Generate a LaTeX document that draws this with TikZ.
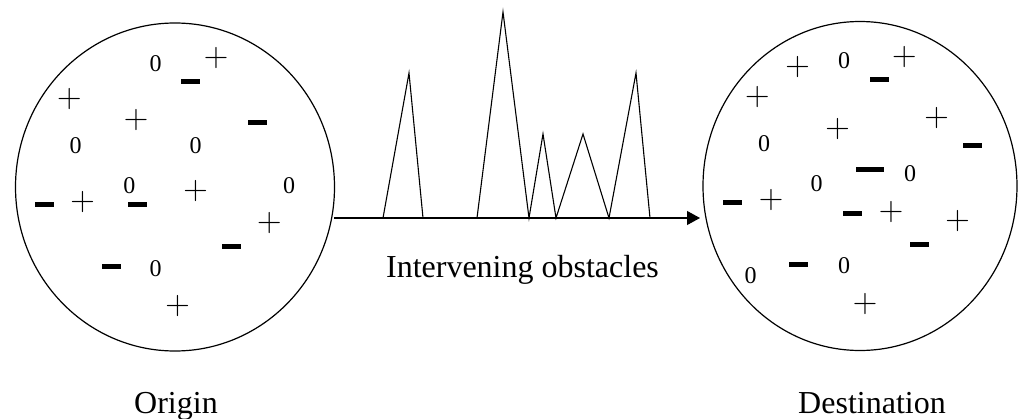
\documentclass[tikz,border=0pt]{standalone}
\usepackage{fontspec}
\newfontfamily\timesf{Liberation Serif}
\usetikzlibrary{shapes.geometric,arrows.meta}
\tikzset{
  region/.style={draw, ellipse, line width=1.2pt, inner sep=0pt},
  zerosym/.style={inner sep=0pt, font=\timesf\fontsize{24}{28}\selectfont},
  plussym/.style={inner sep=0pt, font=\fontsize{34}{40}\selectfont},
  negsym/.style={rectangle, fill=black, inner sep=0pt, minimum width=19pt, minimum height=5pt},
  negl/.style={negsym, minimum width=28pt},
  lbl/.style={anchor=base, inner sep=0pt, font=\timesf\fontsize{32}{38}\selectfont},
  conn/.style={line width=1.1pt, -{Triangle[length=13pt,width=14pt]}},
  peak/.style={line width=1.1pt, line join=miter}
}
\begin{document}
\begin{tikzpicture}[x=1pt,y=-1pt]
\useasboundingbox (0,0) rectangle (1018,418);
% regions
\node[region, minimum width=319pt, minimum height=328pt] (orig) at (175,187) {};
\node[region, minimum width=314pt, minimum height=329pt] (dest) at (860,186) {};
% connector
\coordinate (a0) at (334,218);
\coordinate (a1) at (700,218);
\draw[conn] (a0) -- (a1);
% obstacles
\draw[peak] (383,218) -- (409,73) -- (423,218);
\draw[peak] (477,218) -- (503,12) -- (529,218) -- (543,134) -- (556,218) -- (583,134) -- (609,218) -- (636,73) -- (650,218);
% labels
\node[lbl] (lobs) at (522.5,277) {Intervening obstacles};
\node[lbl] (lorig) at (176,413) {Origin};
\node[lbl] (ldest) at (872,413) {Destination};
% origin particles
\node[zerosym] (o1) at (155.7,63.3) {0};
\node[negsym]  (o2) at (190.7,81.7) {};
\node[plussym] (o3) at (216,58.3) {+};
\node[plussym] (o4) at (69.3,99) {+};
\node[plussym] (o5) at (136,120) {+};
\node[negsym]  (o6) at (257.7,122.7) {};
\node[zerosym] (o7) at (75.7,145.7) {0};
\node[zerosym] (o8) at (195.7,145.7) {0};
\node[zerosym] (o9) at (129.3,186) {0};
\node[plussym] (o10) at (195.7,191) {+};
\node[zerosym] (o11) at (289,186) {0};
\node[negsym]  (o12) at (44.3,204.3) {};
\node[plussym] (o13) at (82.7,202) {+};
\node[negsym]  (o14) at (137.7,204) {};
\node[plussym] (o15) at (269.3,222.7) {+};
\node[negsym]  (o16) at (231,246) {};
\node[negsym]  (o17) at (111,266) {};
\node[zerosym] (o18) at (155.7,268.3) {0};
\node[plussym] (o19) at (177.7,306) {+};
% destination particles
\node[plussym] (d1) at (797.7,67.3) {+};
\node[zerosym] (d2) at (844,61) {0};
\node[negsym]  (d3) at (879,79.3) {};
\node[plussym] (d4) at (904.3,57.3) {+};
\node[plussym] (d5) at (757.3,97.3) {+};
\node[plussym] (d6) at (837.7,129.3) {+};
\node[plussym] (d7) at (936.7,118.3) {+};
\node[negsym]  (d8) at (972.7,145.3) {};
\node[zerosym] (d9) at (764,143.3) {0};
\node[negl]    (d10) at (870,169.3) {};
\node[zerosym] (d11) at (910,174) {0};
\node[zerosym] (d12) at (816.7,184) {0};
\node[negsym]  (d13) at (732,202.3) {};
\node[plussym] (d14) at (771,200) {+};
\node[negsym]  (d15) at (852.3,213.3) {};
\node[plussym] (d16) at (891,211.7) {+};
\node[plussym] (d17) at (957.7,220.7) {+};
\node[negsym]  (d18) at (919,244) {};
\node[negsym]  (d19) at (798.3,264.3) {};
\node[zerosym] (d20) at (844,265.7) {0};
\node[zerosym] (d21) at (750.7,276) {0};
\node[plussym] (d22) at (865,304) {+};
\end{tikzpicture}
\end{document}
